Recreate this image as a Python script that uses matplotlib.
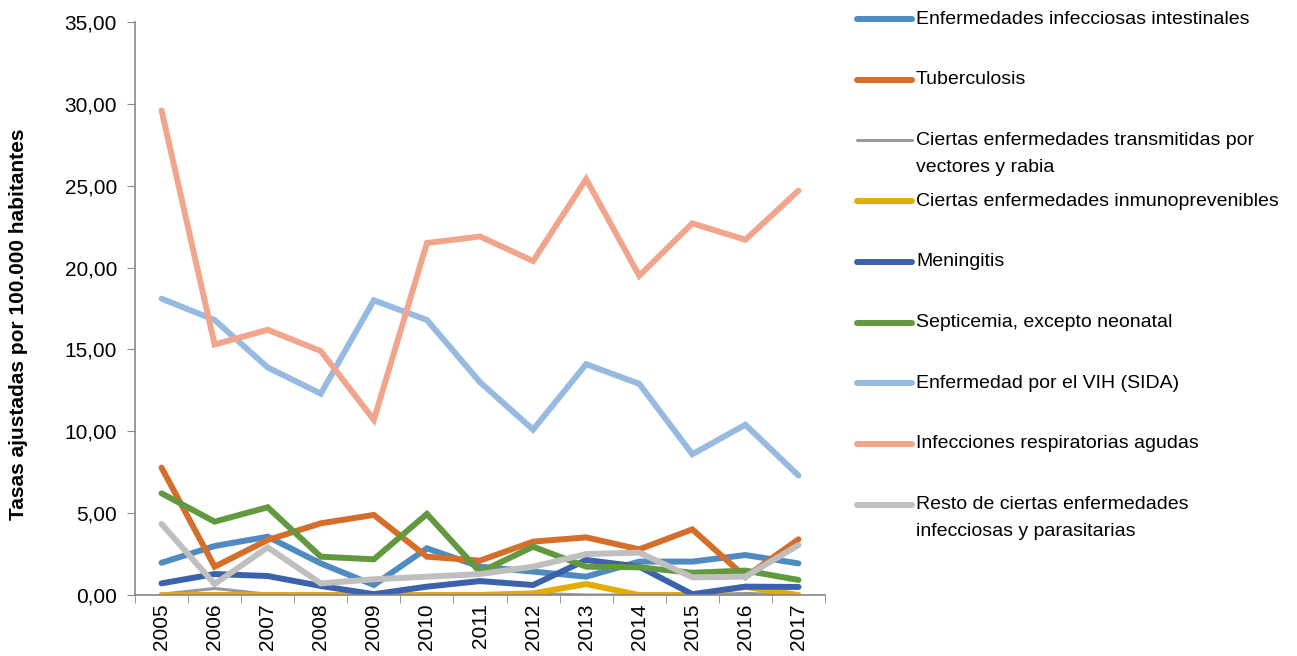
import numpy as np
import matplotlib
matplotlib.use('Agg')
from matplotlib import pyplot as plt
from matplotlib.ticker import FuncFormatter, FixedLocator
from matplotlib.lines import Line2D

plt.rcParams['font.family'] = ['Liberation Sans', 'DejaVu Sans']

years = ['2005', '2006', '2007', '2008', '2009', '2010', '2011',
         '2012', '2013', '2014', '2015', '2016', '2017']

intestinales = [1.97, 2.99, 3.56, 1.93, 0.61, 2.85, 1.73, 1.43, 1.12, 2.04, 2.04, 2.44, 1.93]
tuberculosis = [7.78, 1.73, 3.36, 4.38, 4.89, 2.34, 2.10, 3.26, 3.52, 2.79, 4.01, 1.10, 3.40]
vectores = [0.05, 0.40, 0.05, 0.02, 0.00, 0.00, 0.00, 0.10, 0.00, 0.00, 0.00, 0.10, 0.00]
inmunoprev = [0.00, 0.00, 0.00, 0.00, 0.00, 0.00, 0.00, 0.10, 0.67, 0.00, 0.00, 0.50, 0.00]
meningitis = [0.71, 1.28, 1.16, 0.55, 0.05, 0.51, 0.85, 0.61, 2.14, 1.73, 0.05, 0.51, 0.49]
septicemia = [6.21, 4.48, 5.36, 2.34, 2.18, 4.95, 1.40, 2.95, 1.73, 1.69, 1.36, 1.49, 0.92]
vih = [18.1, 16.8, 13.9, 12.3, 18.0, 16.8, 13.0, 10.1, 14.1, 12.9, 8.6, 10.4, 7.3]
ira = [29.6, 15.3, 16.2, 14.9, 10.7, 21.5, 21.9, 20.4, 25.4, 19.5, 22.7, 21.7, 24.7]
resto = [4.34, 0.67, 2.91, 0.71, 0.96, 1.12, 1.28, 1.73, 2.50, 2.59, 1.08, 1.12, 3.05]

labels = ['Enfermedades infecciosas intestinales',
          'Tuberculosis',
          'Ciertas enfermedades transmitidas por\nvectores y rabia',
          'Ciertas enfermedades inmunoprevenibles',
          'Meningitis',
          'Septicemia, excepto neonatal',
          'Enfermedad por el VIH (SIDA)',
          'Infecciones respiratorias agudas',
          'Resto de ciertas enfermedades\ninfecciosas y parasitarias']
series = [intestinales, tuberculosis, vectores, inmunoprev, meningitis,
          septicemia, vih, ira, resto]
colors = ['#4F8BC1', '#D56E2A', '#999999', '#E5AC00', '#3D62AD',
          '#63993E', '#97BAE1', '#F2A58D', '#BFBFBF']
widths = [4.3, 4.3, 2.2, 4.3, 4.3, 4.3, 4.3, 4.3, 4.3]

fig = plt.figure(figsize=(12.97, 6.56), dpi=100)
ax = fig.add_axes([135 / 1297, 61 / 656, 690 / 1297, 573 / 656])

x = np.arange(len(years))
for vals, c, w in zip(series, colors, widths):
    ax.plot(x, vals, color=c, linewidth=w, solid_capstyle='round', solid_joinstyle='miter')

ax.set_xlim(-0.5, len(years) - 0.5)
ax.set_ylim(0, 35)
ax.set_yticks(np.arange(0, 36, 5))
ax.yaxis.set_major_formatter(FuncFormatter(lambda v, p: f'{v:.2f}'.replace('.', ',')))
ax.set_xticks(x)
ax.set_xticklabels(years, rotation=90)
ax.xaxis.set_minor_locator(FixedLocator(np.arange(-0.5, len(years), 1)))
ax.tick_params(axis='x', which='major', length=0, labelsize=15, pad=6)
ax.tick_params(axis='x', which='minor', length=6, color='#888888', direction='out')
ax.tick_params(axis='y', length=6, color='#888888', labelsize=15, direction='out', pad=7)

for s in ['top', 'right']:
    ax.spines[s].set_visible(False)
for s in ['left', 'bottom']:
    ax.spines[s].set_color('#888888')
    ax.spines[s].set_linewidth(1.2)

fig.text(19 / 1297, 1 - 324 / 656, 'Tasas ajustadas por 100.000 habitantes',
         rotation=90, va='center', ha='center', fontsize=15, fontweight='bold')

# legend drawn by hand to place entries like the original
y0, step = 19, 60.7
for i, (lab, c, w) in enumerate(zip(labels, colors, widths)):
    yc = y0 + i * step
    yf = 1 - yc / 656
    fig.add_artist(Line2D([857 / 1297, 912 / 1297], [yf, yf], color=c, linewidth=w,
                          solid_capstyle='round', transform=fig.transFigure))
    for j, part in enumerate(lab.split('\n')):
        fig.text(916 / 1297, 1 - (yc + j * 27) / 656, part, va='center', ha='left',
                 fontsize=14)

fig.savefig('out.png', dpi=100)
